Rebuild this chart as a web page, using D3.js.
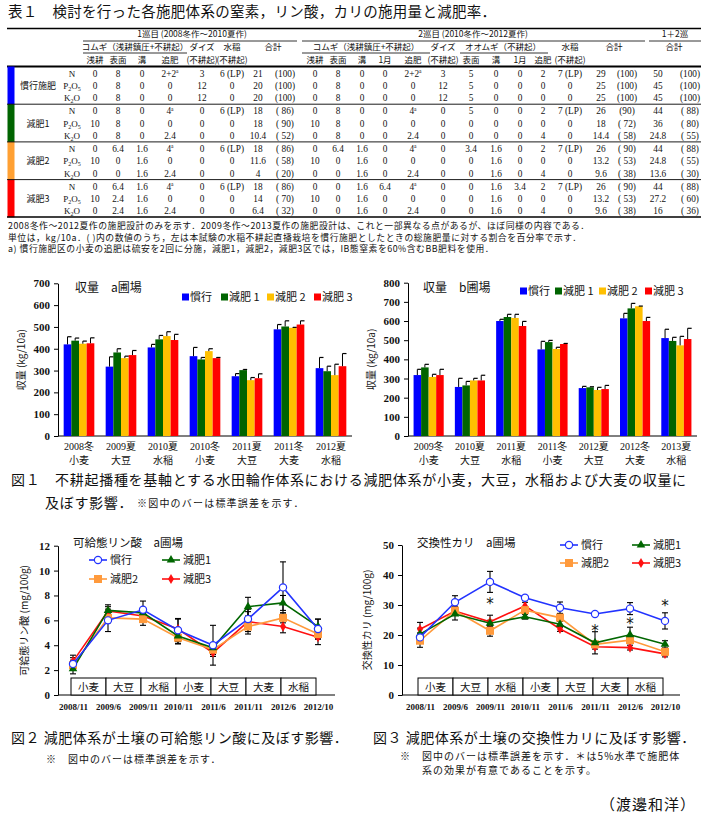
<!DOCTYPE html>
<html><head><meta charset="utf-8">
<script src="https://cdn.jsdelivr.net/npm/d3@7"></script>
<style>
body{margin:0;background:#fff;}
svg text{font-family:"Liberation Serif","Noto Sans CJK JP",serif;fill:#111;}
svg .jp{font-family:"Noto Sans CJK JP",sans-serif;}
</style></head><body><svg id="c" width="705" height="819"></svg>
<script>
// ---------------- DATA ----------------
const tableTitle = "表１　検討を行った各施肥体系の窒素，リン酸，カリの施用量と減肥率．";
const systems = ["慣行施肥", "減肥1", "減肥2", "減肥3"];
const nutrients = ["N", "P2O5", "K2O"];
const tableRows = [
  ["0","8","0","2+2a","3","6 (LP)","21","(100)","0","8","0","0","2+2a","3","5","0","0","2","7 (LP)","29","(100)","50","(100)"],
  ["0","8","0","0","12","0","20","(100)","0","8","0","0","0","12","5","0","0","0","0","25","(100)","45","(100)"],
  ["0","8","0","0","12","0","20","(100)","0","8","0","0","0","12","5","0","0","0","0","25","(100)","45","(100)"],
  ["0","8","0","4a","0","6 (LP)","18","( 86)","0","8","0","0","4a","0","5","0","0","2","7 (LP)","26","(90)","44","( 88)"],
  ["10","8","0","0","0","0","18","( 90)","10","8","0","0","0","0","0","0","0","0","0","18","( 72)","36","( 80)"],
  ["0","8","0","2.4","0","0","10.4","( 52)","0","8","0","0","2.4","0","0","0","0","4","0","14.4","( 58)","24.8","( 55)"],
  ["0","6.4","1.6","4a","0","6 (LP)","18","( 86)","0","6.4","1.6","0","4a","0","3.4","1.6","0","2","7 (LP)","26","( 90)","44","( 88)"],
  ["10","0","1.6","0","0","0","11.6","( 58)","10","0","1.6","0","0","0","0","1.6","0","0","0","13.2","( 53)","24.8","( 55)"],
  ["0","0","1.6","2.4","0","0","4","( 20)","0","0","1.6","0","2.4","0","0","1.6","0","4","0","9.6","( 38)","13.6","( 30)"],
  ["0","6.4","1.6","4a","0","6 (LP)","18","( 86)","0","0","1.6","6.4","4a","0","0","1.6","3.4","2","7 (LP)","26","( 90)","44","( 88)"],
  ["10","2.4","1.6","0","0","0","14","( 70)","10","0","1.6","0","0","0","0","1.6","0","0","0","13.2","( 53)","27.2","( 60)"],
  ["0","2.4","1.6","2.4","0","0","6.4","( 32)","0","0","1.6","0","2.4","0","0","1.6","0","4","0","9.6","( 38)","16","( 36)"]
];
const tableNotes = [
  "2008冬作～2012夏作の施肥設計のみを示す．2009冬作～2013夏作の施肥設計は、これと一部異なる点があるが、ほぼ同様の内容である．",
  "単位は，kg/10a．( )内の数値のうち，左は本試験の水稲不耕起直播栽培を慣行施肥としたときの総施肥量に対する割合を百分率で示す．",
  "a) 慣行施肥区の小麦の追肥は硫安を2回に分施，減肥1，減肥2，減肥3区では，IB態窒素を60%含むBB肥料を使用．"
];

const seriesNames = ["慣行", "減肥 1", "減肥 2", "減肥 3"];
const yieldAYears = ["2008冬","2009夏","2010夏","2010冬","2011夏","2011冬","2012夏"];
const yieldACrops = ["小麦","大豆","水稲","小麦","大豆","大麦","水稲"];
const yieldA_kanko = [420,318,406,366,274,489,311];
const yieldA_gen1  = [437,383,443,351,302,502,297];
const yieldA_gen2  = [423,357,458,389,256,496,279];
const yieldA_gen3  = [425,371,440,357,265,511,320];
const yieldA_kanko_se = [35,45,14,40,12,22,49];
const yieldA_gen1_se  = [12,17,18,9,3,26,23];
const yieldA_gen2_se  = [12,9,20,11,12,2,50];
const yieldA_gen3_se  = [25,21,26,3,20,17,58];

const yieldBYears = ["2009冬","2010夏","2011夏","2011冬","2012夏","2012冬","2013夏"];
const yieldBCrops = ["小麦","大豆","水稲","小麦","大豆","大麦","水稲"];
const yieldB_kanko = [318,256,600,452,250,614,511];
const yieldB_gen1  = [358,264,621,490,254,666,496];
const yieldB_gen2  = [308,290,616,454,240,677,473];
const yieldB_gen3  = [318,290,574,480,245,600,506];
const yieldB_kanko_se = [30,45,9,42,9,26,46];
const yieldB_gen1_se  = [16,21,14,9,3,26,19];
const yieldB_gen2_se  = [14,11,19,9,14,1,47];
const yieldB_gen3_se  = [30,27,24,3,19,19,56];

const soilDates = ["2008/11","2009/6","2009/11","2010/11","2011/6","2011/11","2012/6","2012/10"];
const soilCrops = ["小麦","大豆","水稲","小麦","大豆","大麦","水稲"];
const lineNames = ["慣行","減肥1","減肥2","減肥3"];
const P_kanko = [2.5,6.0,6.85,5.2,4.0,6.1,8.65,5.3];
const P_gen1  = [2.1,6.8,6.6,4.75,3.8,7.1,7.4,5.5];
const P_gen2  = [2.4,6.2,6.1,4.6,3.65,5.5,6.2,4.9];
const P_gen3  = [2.7,6.75,6.35,5.3,3.4,5.9,5.5,4.65];
const P_kanko_se = [0.5,0.9,0.7,0.9,1.6,0.6,2.05,0.8];
const P_gen1_se  = [0.4,0.3,0.3,0.6,0.3,0.75,0.6,0.6];
const P_gen2_se  = [0.4,0.4,0.5,0.5,0.4,0.4,0.4,0.4];
const P_gen3_se  = [0.5,0.5,0.4,0.85,0.3,1.0,0.5,0.6];

const K_kanko = [19.2,30.9,37.7,32.4,29.1,27.0,28.8,24.7];
const K_gen1  = [20.3,27.0,23.9,26.1,23.6,17.4,20.1,16.9];
const K_gen2  = [18.1,28.1,21.4,28.3,25.8,16.9,18.3,14.4];
const K_gen3  = [21.9,28.0,24.4,29.7,22.0,16.1,15.8,13.7];
const K_kanko_se = [1.5,2.2,3.5,0.6,1.9,0.5,2.0,2.7];
const K_gen1_se  = [2.0,2.0,1.0,0.8,1.0,3.7,2.5,1.2];
const K_gen2_se  = [2.2,1.5,1.8,0.8,1.0,1.0,1.0,1.0];
const K_gen3_se  = [2.3,1.0,2.2,1.2,0.8,0.8,0.8,1.0];
const K_sigIdx = [2,5,6,7];
const K_sigVal = [31,22,24.3,30.3];

// ---------------- DRAW ----------------
const svg = d3.select("#c");
const groupColors = ["#0000ff","#006400","#ffa033","#ff0000"];

// ===== TABLE =====
const T = svg.append("g");
T.append("text").attr("class","jp").attr("x",8).attr("y",17).style("font-size","14.5px").style("letter-spacing","0.3px").text(tableTitle);
const tl = (x1,x2,y,w)=>T.append("line").attr("x1",x1).attr("x2",x2).attr("y1",y).attr("y2",y).attr("stroke","#000").attr("stroke-width",w);
tl(7,701,28.5,1.3);
tl(83,297,41,0.8); tl(302,645,41,0.8); tl(649,701,41,0.8);
tl(83,187,53,0.8); tl(302,430,53,0.8); tl(460,548,53,0.8);
tl(7,701,66.5,2.2);
const hdr = (x,y,s)=>T.append("text").attr("class","jp").attr("x",x).attr("y",y).attr("text-anchor","middle").style("font-size","8.5px").text(s);
hdr(192,37,"1巡目 (2008冬作～2010夏作)");
hdr(473,37,"2巡目 (2010冬作～2012夏作)");
hdr(675,37,"1＋2巡");
[[135,"コムギ（浅耕鎮圧+不耕起）"],[202,"ダイズ"],[232,"水稲"],[273,"合計"],
 [366,"コムギ（浅耕鎮圧+不耕起）"],[443,"ダイズ"],[503,"オオムギ（不耕起）"],[570,"水稲"],[614,"合計"],[674,"合計"]]
 .forEach(d=>hdr(d[0],50,d[1]));
[[95,"浅耕"],[118,"表面"],[142,"溝"],[170,"追肥"],[202,"(不耕起)"],[232,"(不耕起)"],
 [315,"浅耕"],[338,"表面"],[362,"溝"],[385,"1月"],[413,"追肥"],[443,"(不耕起)"],[471,"表面"],[496,"溝"],[520,"1月"],[543,"追肥"],[570,"(不耕起)"]]
 .forEach(d=>hdr(d[0],63,d[1]));

const colX = [95,118,142,170,202,232,258,285,315,338,362,385,413,443,471,496,520,543,570,601,627,658,690];
const gH = 37.7, rH = 12.4;
systems.forEach((s,g)=>{
  const top = 66.5 + g*gH;
  T.append("rect").attr("x",7.5).attr("y",top).attr("width",7).attr("height",gH).attr("fill",groupColors[g]);
  if (g>0) tl(7,701,top,0.9);
  T.append("text").attr("class","jp").attr("x",38).attr("y",top+gH/2+3.5).attr("text-anchor","middle").style("font-size","9px").text(s);
  nutrients.forEach((n,r)=>{
    const y = 73.5 + g*gH + r*rH + 3;
    const t = T.append("text").attr("x",72).attr("y",y).attr("text-anchor","middle").style("font-size","9px");
    n.split("").forEach((ch,i,arr)=>{
      if (/\d/.test(ch)) t.append("tspan").attr("dy",2).style("font-size","6px").text(ch);
      else t.append("tspan").attr("dy", i>0 && /\d/.test(arr[i-1]) ? -2 : 0).text(ch);
    });
    tableRows[g*3+r].forEach((v,c)=>{
      const cell = T.append("text").attr("x",colX[c]).attr("y",y).attr("text-anchor","middle").style("font-size","9.3px");
      const m = v.match(/^(.*\d)a$/);
      if (m) { cell.append("tspan").text(m[1]); cell.append("tspan").attr("dy",-3.5).style("font-size","5.5px").text("a"); }
      else cell.text(v);
    });
  });
});
tl(7,701,217,1.3);
tableNotes.forEach((s,i)=>T.append("text").attr("class","jp").attr("x",8).attr("y",229+i*11.7).style("font-size","8.8px").style("letter-spacing","0.55px").text(s));

// ===== BAR CHARTS =====
function barChart(cfg){
  const g = svg.append("g");
  const x0 = d3.scaleBand().domain(cfg.years).range([cfg.xl, cfg.xr]).paddingInner(0.27).paddingOuter(0.135);
  const x1 = d3.scaleBand().domain(seriesNames).range([0, x0.bandwidth()]);
  const y = d3.scaleLinear().domain([0, cfg.ymax]).range([cfg.yb, cfg.yt]);
  const colors = ["#0000ff","#006400","#ffc000","#ff0000"];
  const ax = g.append("g").attr("transform",`translate(${cfg.xl},0)`)
    .call(d3.axisLeft(y).tickValues(d3.range(0,cfg.ymax+1,100)).tickSize(4).tickPadding(4).tickSizeOuter(0));
  ax.selectAll("text").style("font-size","11px").style("font-weight","bold").style("font-family","Liberation Serif");
  ax.selectAll("line,path").attr("stroke","#000");
  g.append("line").attr("x1",cfg.xl).attr("x2",cfg.xr).attr("y1",cfg.yb).attr("y2",cfg.yb).attr("stroke","#000");
  cfg.series.forEach((vals,si)=>{
    const se = cfg.se[si];
    g.selectAll(null).data(vals).enter().append("rect")
      .attr("x",(d,i)=>x0(cfg.years[i])+x1(seriesNames[si]))
      .attr("width",x1.bandwidth()).attr("y",d=>y(d)).attr("height",d=>cfg.yb-y(d)).attr("fill",colors[si]);
    vals.forEach((v,i)=>{
      const cx = x0(cfg.years[i])+x1(seriesNames[si])+x1.bandwidth()/2;
      g.append("line").attr("x1",cx).attr("x2",cx).attr("y1",y(v)).attr("y2",y(v+se[i])).attr("stroke","#000").attr("stroke-width",1);
      g.append("line").attr("x1",cx).attr("x2",cx+4).attr("y1",y(v+se[i])).attr("y2",y(v+se[i])).attr("stroke","#000").attr("stroke-width",1.2);
    });
  });
  cfg.years.forEach((yr,i)=>{
    const cx = x0(yr)+x0.bandwidth()/2;
    g.append("text").attr("x",cx).attr("y",cfg.yb+14).attr("text-anchor","middle").style("font-size","10px").text(yr);
    g.append("text").attr("x",cx).attr("y",cfg.yb+28).attr("text-anchor","middle").attr("class","jp").style("font-size","10px").text(cfg.crops[i]);
  });
  g.append("text").attr("class","jp").attr("x",cfg.titleX).attr("y",cfg.yt+9).style("font-size","12px").text(cfg.title);
  seriesNames.forEach((s,i)=>{
    g.append("rect").attr("x",cfg.legX[i]).attr("y",cfg.legY-3.5).attr("width",7).attr("height",7).attr("fill",colors[i]);
    g.append("text").attr("class","jp").attr("x",cfg.legX[i]+8).attr("y",cfg.legY+4).style("font-size","11px").text(s);
  });
  g.append("text").attr("class","jp").attr("transform",`translate(${cfg.ylabX},${(cfg.yb+cfg.yt)/2}) rotate(-90)`)
    .attr("text-anchor","middle").style("font-size","10px").text("収量 (kg/10a)");
}
barChart({xl:58,xr:352,yb:436,yt:283.3,ymax:700,years:yieldAYears,crops:yieldACrops,
  series:[yieldA_kanko,yieldA_gen1,yieldA_gen2,yieldA_gen3],se:[yieldA_kanko_se,yieldA_gen1_se,yieldA_gen2_se,yieldA_gen3_se],
  title:"収量　a圃場",titleX:75,legX:[182,221,267,314],legY:297,ylabX:25});
barChart({xl:408,xr:697,yb:436,yt:282.7,ymax:800,years:yieldBYears,crops:yieldBCrops,
  series:[yieldB_kanko,yieldB_gen1,yieldB_gen2,yieldB_gen3],se:[yieldB_kanko_se,yieldB_gen1_se,yieldB_gen2_se,yieldB_gen3_se],
  title:"収量　b圃場",titleX:423,legX:[520,555,599,645],legY:291,ylabX:375});

// ===== LINE CHARTS =====
function lineChart(cfg){
  const g = svg.append("g");
  const x = d3.scalePoint().domain(soilDates).range([cfg.px0,cfg.px1]);
  const y = d3.scaleLinear().domain([0,cfg.ymax]).range([cfg.yb,cfg.yt]);
  const lineColors = ["#2233ff","#006600","#ff9a3c","#ff1010"];
  const ax = g.append("g").attr("transform",`translate(${cfg.ax},0)`)
    .call(d3.axisLeft(y).tickValues(d3.range(0,cfg.ymax+0.001,cfg.step)).tickSize(4).tickPadding(4).tickSizeOuter(0));
  ax.selectAll("text").style("font-size","11px").style("font-weight","bold").style("font-family","Liberation Serif");
  ax.selectAll("line,path").attr("stroke","#000");
  g.append("line").attr("x1",cfg.ax).attr("x2",cfg.axEnd).attr("y1",cfg.yb).attr("y2",cfg.yb).attr("stroke","#000");
  const xa = g.append("g").attr("transform",`translate(0,${cfg.yb})`).call(d3.axisBottom(x).tickSize(0).tickPadding(9));
  xa.select(".domain").remove();
  xa.selectAll("text").style("font-size","9px").style("font-weight","bold").style("font-family","Liberation Serif");
  soilCrops.forEach((c,i)=>{
    const xa0 = x(soilDates[i])-2, xa1 = x(soilDates[i+1])-2;
    g.append("rect").attr("x",xa0).attr("y",cfg.yb-17).attr("width",xa1-xa0).attr("height",17).attr("fill","#fff").attr("stroke","#000").attr("stroke-width",1);
    g.append("text").attr("class","jp").attr("x",(xa0+xa1)/2).attr("y",cfg.yb-4.5).attr("text-anchor","middle").style("font-size","10.5px").text(c);
  });
  cfg.series.forEach((vals,si)=>{
    vals.forEach((v,i)=>{
      const e = cfg.se[si][i], cx = x(soilDates[i]);
      g.append("line").attr("x1",cx).attr("x2",cx).attr("y1",y(v-e)).attr("y2",y(v+e)).attr("stroke","#000").attr("stroke-width",1.1);
      [v-e,v+e].forEach(b=>g.append("line").attr("x1",cx-3).attr("x2",cx+3).attr("y1",y(b)).attr("y2",y(b)).attr("stroke","#000").attr("stroke-width",1.1));
    });
  });
  const line = d3.line().x((d,i)=>x(soilDates[i])).y(d=>y(d));
  const marker = (sel, si, cx, cy)=>{
    if (si===0) sel.append("circle").attr("cx",cx).attr("cy",cy).attr("r",3.6).attr("fill","#fff").attr("stroke",lineColors[0]).attr("stroke-width",1.2);
    else if (si===1) sel.append("path").attr("d",d3.symbol(d3.symbolTriangle).size(32)()).attr("transform",`translate(${cx},${cy})`).attr("fill",lineColors[1]);
    else if (si===2) sel.append("rect").attr("x",cx-4).attr("y",cy-4).attr("width",8).attr("height",8).attr("fill",lineColors[2]);
    else sel.append("path").attr("d",d3.symbol(d3.symbolDiamond).size(30)()).attr("transform",`translate(${cx},${cy})`).attr("fill",lineColors[3]);
  };
  [3,2,1,0].forEach(si=>{
    const vals = cfg.series[si];
    g.append("path").datum(vals).attr("d",line).attr("fill","none").attr("stroke",lineColors[si]).attr("stroke-width",1.6);
    vals.forEach((v,i)=>marker(g,si,x(soilDates[i]),y(v)));
  });
  if (cfg.sigIdx) cfg.sigIdx.forEach((idx,k)=>{
    g.append("text").attr("x",x(soilDates[idx])).attr("y",y(cfg.sigVal[k])+7).attr("text-anchor","middle").style("font-size","15px").style("font-family","DejaVu Sans").text("*");
  });
  g.append("text").attr("class","jp").attr("x",cfg.titleX).attr("y",cfg.titleY).style("font-size","11.5px").text(cfg.title);
  lineNames.forEach((n,i)=>{
    const lx = cfg.legX[i%2], ly = cfg.legY[Math.floor(i/2)];
    g.append("line").attr("x1",lx).attr("x2",lx+18).attr("y1",ly).attr("y2",ly).attr("stroke",lineColors[i]).attr("stroke-width",1.6);
    marker(g,i,lx+9,ly);
    g.append("text").attr("class","jp").attr("x",lx+21).attr("y",ly+4).style("font-size","11px").text(n);
  });
  g.append("text").attr("class","jp").attr("transform",`translate(${cfg.ylabX},${(cfg.yb+cfg.yt)/2}) rotate(-90)`)
    .attr("text-anchor","middle").style("font-size","10px").text(cfg.ylab);
}
lineChart({ax:58,axEnd:335,px0:73,px1:318,yb:695,yt:545.7,ymax:12,step:2,
  series:[P_kanko,P_gen1,P_gen2,P_gen3],se:[P_kanko_se,P_gen1_se,P_gen2_se,P_gen3_se],
  title:"可給態リン酸　a圃場",titleX:73,titleY:547,legX:[89,162],legY:[560,579],ylabX:28,ylab:"可給態リン酸 (mg/100g)"});
lineChart({ax:402,axEnd:680,px0:420,px1:665,yb:695,yt:545,ymax:50,step:10,
  series:[K_kanko,K_gen1,K_gen2,K_gen3],se:[K_kanko_se,K_gen1_se,K_gen2_se,K_gen3_se],
  sigIdx:K_sigIdx,sigVal:K_sigVal,
  title:"交換性カリ　a圃場",titleX:417,titleY:547,legX:[560,632],legY:[545,563],ylabX:371,ylab:"交換性カリ (mg/100g)"});

// ===== CAPTIONS =====
const cap = (x,y,s,fs,ls)=>svg.append("text").attr("class","jp").attr("x",x).attr("y",y).style("font-size",fs+"px").style("letter-spacing",(ls||0)+"px").text(s);
cap(11,485,"図１　不耕起播種を基軸とする水田輪作体系における減肥体系が小麦，大豆，水稲および大麦の収量に",14,0.7);
cap(45,508,"及ぼす影響．",14,0.7);
cap(137,507,"※図中のバーは標準誤差を示す．",10,1.2);
cap(11,743,"図２ 減肥体系が土壌の可給態リン酸に及ぼす影響．",14,0.5);
cap(373,743,"図３ 減肥体系が土壌の交換性カリに及ぼす影響．",14,0.5);
cap(46,763,"※　図中のバーは標準誤差を示す．",10,1);
cap(400,760,"※　図中のバーは標準誤差を示す．＊は5%水準で施肥体",10,1);
cap(422,774,"系の効果が有意であることを示す。",10,1);
cap(600,810,"（渡邊和洋）",15,1);
</script></body></html>
